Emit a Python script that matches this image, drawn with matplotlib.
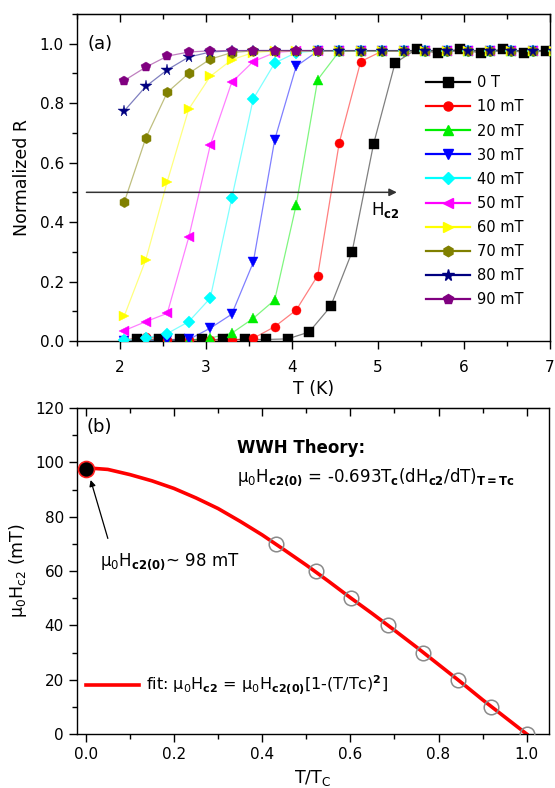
import matplotlib
matplotlib.use('Agg')
import matplotlib.pyplot as plt
from matplotlib.lines import Line2D
from matplotlib.ticker import MultipleLocator

plt.rcParams['font.family'] = ['DejaVu Sans']
plt.rcParams['mathtext.default'] = 'regular'

# ---- panel (a): normalized resistance vs temperature ----
t_grid = [2.05, 2.30, 2.55, 2.80, 3.05, 3.30, 3.55, 3.80, 4.05, 4.30, 4.55,
          4.80, 5.05, 5.30, 5.55, 5.80, 6.05, 6.30, 6.55, 6.80, 7.05]
t_0T = [2.20, 2.45, 2.70, 2.95, 3.20, 3.45, 3.70, 3.95, 4.20, 4.45, 4.70,
        4.95, 5.20, 5.45, 5.70, 5.95, 6.20, 6.45, 6.70, 6.95]

r_0T = [0.005, 0.005, 0.005, 0.005, 0.005, 0.005, 0.005, 0.007, 0.030, 0.116,
        0.300, 0.663, 0.935, 0.982, 0.968, 0.982, 0.968, 0.982, 0.970, 0.975]
r_10 = [0.003, 0.015, 0.002, 0.002, 0.003, 0.003, 0.009, 0.048, 0.104, 0.220, 0.666,
        0.940, 0.975, 0.976, 0.976, 0.976, 0.976, 0.976, 0.976, 0.976, 0.976]
r_20 = [0.000, 0.000, 0.000, 0.002, 0.010, 0.026, 0.076, 0.138, 0.458, 0.879, 0.974,
        0.976, 0.976, 0.976, 0.976, 0.976, 0.976, 0.976, 0.976, 0.976, 0.976]
r_30 = [0.000, 0.000, 0.002, 0.005, 0.043, 0.090, 0.264, 0.677, 0.924, 0.975, 0.976,
        0.976, 0.976, 0.976, 0.976, 0.976, 0.976, 0.976, 0.976, 0.976, 0.976]
r_40 = [0.003, 0.010, 0.025, 0.065, 0.144, 0.480, 0.814, 0.935, 0.970, 0.976, 0.976,
        0.976, 0.976, 0.976, 0.976, 0.976, 0.976, 0.976, 0.976, 0.976, 0.976]
r_50 = [0.035, 0.065, 0.093, 0.349, 0.658, 0.870, 0.940, 0.970, 0.976, 0.976, 0.976,
        0.976, 0.976, 0.976, 0.976, 0.976, 0.976, 0.976, 0.976, 0.976, 0.976]
r_60 = [0.084, 0.273, 0.536, 0.780, 0.890, 0.946, 0.970, 0.976, 0.976, 0.976, 0.976,
        0.976, 0.976, 0.976, 0.976, 0.976, 0.976, 0.976, 0.976, 0.976, 0.976]
r_70 = [0.467, 0.682, 0.836, 0.900, 0.948, 0.970, 0.976, 0.976, 0.976, 0.976, 0.976,
        0.976, 0.976, 0.976, 0.976, 0.976, 0.976, 0.976, 0.976, 0.976, 0.976]
r_80 = [0.774, 0.856, 0.912, 0.955, 0.972, 0.976, 0.977, 0.977, 0.977, 0.977, 0.977,
        0.977, 0.977, 0.977, 0.977, 0.977, 0.977, 0.977, 0.977, 0.977, 0.977]
r_90 = [0.876, 0.921, 0.958, 0.972, 0.976, 0.977, 0.977, 0.977, 0.977, 0.977]

labels_a = ['0 T', '10 mT', '20 mT', '30 mT', '40 mT',
            '50 mT', '60 mT', '70 mT', '80 mT', '90 mT']
colors_a = ['#000000', '#ff0000', '#00ee00', '#0000ff', '#00ffff',
            '#ff00ff', '#ffff00', '#808000', '#000080', '#800080']
markers_a = ['s', 'o', '^', 'v', 'D', '<', '>', 'h', '*', 'p']
msizes = [6.5, 6.5, 7, 7, 6, 7, 7, 7.5, 8.5, 7.5]

series_t = [t_0T, t_grid, t_grid, t_grid, t_grid, t_grid, t_grid, t_grid, t_grid, t_grid[:10]]
series_r = [r_0T, r_10, r_20, r_30, r_40, r_50, r_60, r_70, r_80, r_90]

# ---- panel (b): upper critical field ----
t_ratio = [0.431, 0.522, 0.601, 0.686, 0.765, 0.844, 0.918, 1.000]
hc2 = [70, 60, 50, 40, 30, 20, 10, 0]
hc2_zero = 97.5
fit_t = [0.00, 0.05, 0.10, 0.15, 0.20, 0.25, 0.30, 0.35, 0.40, 0.45, 0.50,
         0.55, 0.60, 0.65, 0.70, 0.75, 0.80, 0.85, 0.90, 0.95, 1.00]
fit_h = [98.0, 97.4, 95.5, 93.2, 90.4, 86.9, 83.0, 78.3, 73.3, 67.8, 62.2,
         56.3, 50.2, 44.3, 38.2, 32.0, 25.6, 19.2, 12.6, 6.3, 0.0]

fig = plt.figure(figsize=(5.55, 7.88), dpi=100)
ax1 = fig.add_axes([0.1387, 0.5673, 0.852, 0.415])
ax2 = fig.add_axes([0.1387, 0.0685, 0.850, 0.4137])

handles = []
for t, r, c, m, ms, lab in zip(series_t, series_r, colors_a, markers_a, msizes, labels_a):
    ax1.plot(t, r, '-', color=c, lw=0.9, alpha=0.5, zorder=2)
    ax1.plot(t, r, ls='none', marker=m, ms=ms, color=c, mec=c, mew=0.3, zorder=3)
    handles.append(Line2D([], [], color=c, lw=1.6, marker=m, ms=ms, mec=c))

ax1.legend(handles, labels_a, loc='upper left', bbox_to_anchor=(0.738, 0.812),
           frameon=False, fontsize=10.5, handlelength=3.0, handletextpad=0.5,
           labelspacing=0.62, borderpad=0, borderaxespad=0)

ax1.annotate('', xy=(5.22, 0.5), xytext=(1.61, 0.5),
             arrowprops=dict(arrowstyle='-|>', color='#333333', lw=1.1,
                             mutation_scale=11, shrinkA=0, shrinkB=0), zorder=4)
ax1.text(4.92, 0.475, r'H$_{\mathbf{c2}}$', fontsize=12, va='top', ha='left')
ax1.text(1.62, 1.0, '(a)', fontsize=13, va='center', ha='left')

ax1.set_xlim(1.5, 7.0)
ax1.set_ylim(0.0, 1.1)
ax1.xaxis.set_major_locator(MultipleLocator(1))
ax1.xaxis.set_minor_locator(MultipleLocator(0.5))
ax1.yaxis.set_major_locator(MultipleLocator(0.2))
ax1.yaxis.set_minor_locator(MultipleLocator(0.1))
ax1.set_xlabel('T (K)', fontsize=12.5, labelpad=3)
ax1.set_ylabel('Normalized R', fontsize=12.5, labelpad=6)

# panel b
ax2.plot(t_ratio, hc2, 'o', ms=10.5, mfc='none', mec='#8a8a8a', mew=1.1, zorder=3)
ax2.plot(fit_t, fit_h, '-', color='#ff0000', lw=2.6, zorder=2,
         label=r'fit: μ$_0$H$_{\mathbf{c2}}$ = μ$_0$H$_{\mathbf{c2(0)}}$[1-(T/Tc)$^{\mathbf{2}}$]')
ax2.plot([0.0], [hc2_zero], 'o', ms=11.5, mfc='black', mec='#ff2020', mew=1.2, zorder=4)

ax2.legend(loc='center left', bbox_to_anchor=(0.02, 0.15), frameon=False,
           fontsize=11.5, handlelength=3.3, handletextpad=0.4,
           borderpad=0, borderaxespad=0)

ax2.annotate('', xy=(0.011, 93.5), xytext=(0.05, 72),
             arrowprops=dict(arrowstyle='-|>', color='black', lw=0.9,
                             mutation_scale=9, shrinkA=0, shrinkB=0))
ax2.text(0.032, 63.5, r'μ$_0$H$_{\mathbf{c2(0)}}$~ 98 mT', fontsize=12, va='center', ha='left')
ax2.text(0.342, 105.3, 'WWH Theory:', fontsize=12, fontweight='bold', va='center', ha='left')
ax2.text(0.342, 94.5, r'μ$_0$H$_{\mathbf{c2(0)}}$ = -0.693T$_{\mathbf{c}}$(dH$_{\mathbf{c2}}$/dT)$_{\mathbf{T=Tc}}$',
         fontsize=12, va='center', ha='left')
ax2.text(0.002, 113, '(b)', fontsize=13, va='center', ha='left')

ax2.set_xlim(-0.02, 1.05)
ax2.set_ylim(0, 120)
ax2.xaxis.set_major_locator(MultipleLocator(0.2))
ax2.xaxis.set_minor_locator(MultipleLocator(0.1))
ax2.yaxis.set_major_locator(MultipleLocator(20))
ax2.yaxis.set_minor_locator(MultipleLocator(10))
ax2.set_xlabel('T/T$_C$', fontsize=12.5, labelpad=4)
ax2.set_ylabel(r'μ$_0$H$_{c2}$ (mT)', fontsize=12.5, labelpad=4)

for ax in (ax1, ax2):
    ax.tick_params(which='both', direction='out', labelsize=11, width=1.0)
    ax.tick_params(which='major', length=6)
    ax.tick_params(which='minor', length=3.5)
    sec = ax.secondary_xaxis('top')
    sec.set_xticks(ax.get_xticks())
    sec.xaxis.set_minor_locator(ax.xaxis.get_minor_locator())
    sec.tick_params(which='both', direction='in', labeltop=False, width=1.0)
    sec.tick_params(which='major', length=6)
    sec.tick_params(which='minor', length=3.5)
    for s in ax.spines.values():
        s.set_linewidth(1.0)
ax1.tick_params(axis='x', which='major', pad=8)

fig.savefig('out.png', dpi=100)
